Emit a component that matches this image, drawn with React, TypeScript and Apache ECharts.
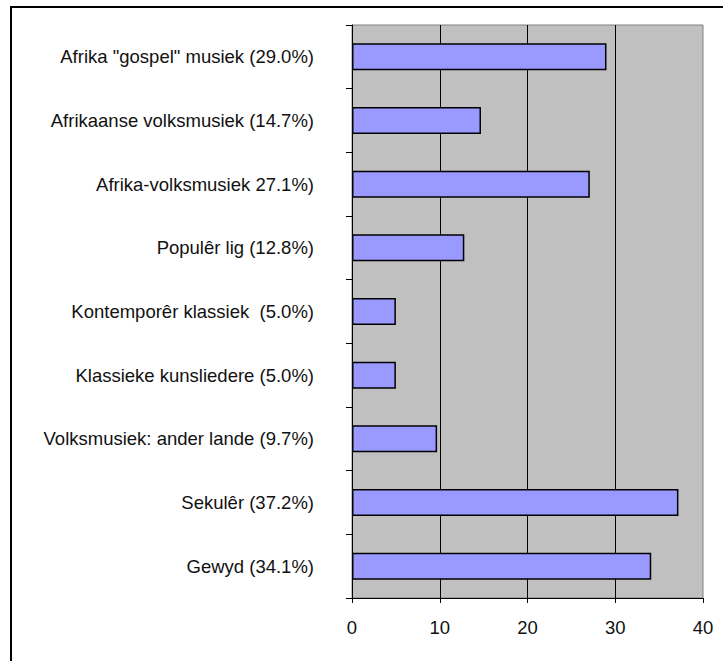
import React, { useEffect, useRef } from "react";
import * as echarts from "echarts";

const categories = [
  'Afrika "gospel" musiek (29.0%)',
  "Afrikaanse volksmusiek (14.7%)",
  "Afrika-volksmusiek 27.1%)",
  "Populêr lig (12.8%)",
  "Kontemporêr klassiek  (5.0%)",
  "Klassieke kunsliedere (5.0%)",
  "Volksmusiek: ander lande (9.7%)",
  "Sekulêr (37.2%)",
  "Gewyd (34.1%)",
];
const values = [29.0, 14.7, 27.1, 12.8, 5.0, 5.0, 9.7, 37.2, 34.1];
const xTicks = [0, 10, 20, 30, 40];

const FONT = "'Liberation Sans', Arial, sans-serif";

export default function App() {
  const ref = useRef<HTMLDivElement>(null);
  useEffect(() => {
    if (!ref.current) return;
    const chart = echarts.init(ref.current, undefined, { renderer: "svg" });
    chart.setOption({
      animation: false,
      backgroundColor: "#ffffff",
      textStyle: { fontFamily: FONT },
      graphic: [
        {
          type: "rect",
          shape: { x: 11, y: 7, width: 900, height: 900 },
          style: { fill: "none", stroke: "#000", lineWidth: 2 },
          z: 100,
        },
      ],
      grid: {
        left: 352,
        top: 25,
        right: 20,
        bottom: 63,
        show: true,
        backgroundColor: "#C0C0C0",
        borderColor: "#808080",
        borderWidth: 1,
      },
      xAxis: {
        type: "value",
        min: xTicks[0],
        max: xTicks[xTicks.length - 1],
        interval: 10,
        axisLine: { show: true, lineStyle: { color: "#000", width: 1 } },
        axisTick: { show: true, length: 5, lineStyle: { color: "#000" } },
        axisLabel: { fontSize: 18.5, color: "#111", margin: 20, fontFamily: FONT },
        splitLine: {
          show: true,
          showMinLine: false,
          showMaxLine: false,
          lineStyle: { color: "#000", width: 1 },
        },
      },
      yAxis: {
        type: "category",
        inverse: true,
        data: categories,
        axisLine: { show: true, lineStyle: { color: "#000", width: 1 } },
        axisTick: { show: true, length: 6, alignWithLabel: false, lineStyle: { color: "#000" } },
        axisLabel: { fontSize: 18.5, color: "#111", margin: 38, fontFamily: FONT },
        splitLine: { show: false },
      },
      series: [
        {
          type: "bar",
          data: values,
          barWidth: 27,
          itemStyle: { color: "#9999FF", borderColor: "#000", borderWidth: 1.5 },
        },
      ],
    });
    return () => chart.dispose();
  }, []);
  return (
    <div
      ref={ref}
      style={{ position: "absolute", left: 0, top: 0, width: 723, height: 661 }}
    />
  );
}
